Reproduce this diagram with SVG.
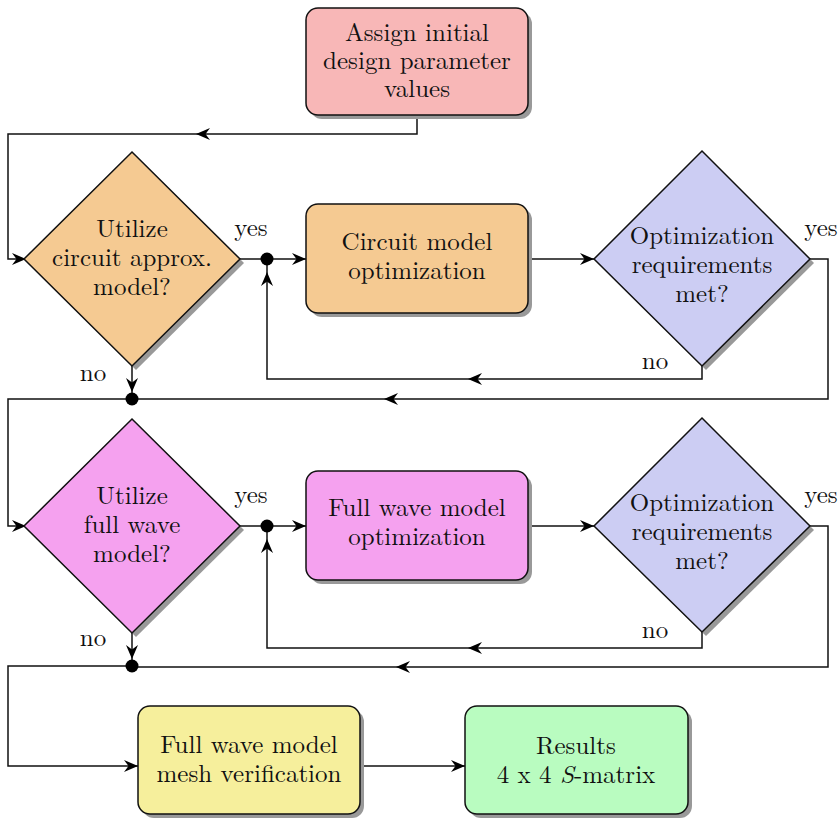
<svg xmlns="http://www.w3.org/2000/svg" width="838" height="820" viewBox="0 0 838 820" font-family="Latin Modern Roman, Liberation Serif, serif">
<style>
.t{font-family:Latin Modern Roman,Liberation Serif,serif;font-size:25px;fill:#111;text-anchor:middle}
.sh{fill:#999;stroke:none}
.nd{stroke:#111;stroke-width:1.5}
.ln{fill:none;stroke:#111;stroke-width:1.5}
.dot{fill:#000}
</style>
<defs>
<path id="ah" d="M0,0 L-14,-6 L-9.5,0 L-14,6 Z" fill="#000"/>
</defs>
<g id="connectors">
<path class="ln" d="M417,115 V134 H8 V259 H26"/>
<path class="ln" d="M240,259 H306"/>
<path class="ln" d="M528,259 H594"/>
<path class="ln" d="M810,259 H828 V399 H132"/>
<path class="ln" d="M702,366 V379 H267 V259"/>
<path class="ln" d="M132,366 V399"/>
<path class="ln" d="M132,399 H8 V526 H26"/>
<path class="ln" d="M240,526 H306"/>
<path class="ln" d="M528,526 H594"/>
<path class="ln" d="M810,526 H828 V667 H132"/>
<path class="ln" d="M702,632 V648 H267 V526"/>
<path class="ln" d="M132,633 V666"/>
<path class="ln" d="M132,666 H8 V766 H138"/>
<path class="ln" d="M360,766 H465"/>
<use href="#ah" transform="translate(196,134) rotate(180)"/>
<use href="#ah" transform="translate(26,259)"/>
<use href="#ah" transform="translate(306,259)"/>
<use href="#ah" transform="translate(594,259)"/>
<use href="#ah" transform="translate(468,379) rotate(180)"/>
<use href="#ah" transform="translate(267,272) rotate(-90)"/>
<use href="#ah" transform="translate(384,399) rotate(180)"/>
<use href="#ah" transform="translate(132,392) rotate(90)"/>
<use href="#ah" transform="translate(26,526)"/>
<use href="#ah" transform="translate(306,526)"/>
<use href="#ah" transform="translate(594,526)"/>
<use href="#ah" transform="translate(468,648) rotate(180)"/>
<use href="#ah" transform="translate(267,539) rotate(-90)"/>
<use href="#ah" transform="translate(396,667) rotate(180)"/>
<use href="#ah" transform="translate(132,659) rotate(90)"/>
<use href="#ah" transform="translate(138,766)"/>
<use href="#ah" transform="translate(465,766)"/>
<circle class="dot" cx="267" cy="259" r="6.5"/>
<circle class="dot" cx="132" cy="399" r="6.5"/>
<circle class="dot" cx="267" cy="526" r="6.5"/>
<circle class="dot" cx="132" cy="666" r="6.5"/>
<text class="t" x="251" y="236">yes</text>
<text class="t" x="821" y="236">yes</text>
<text class="t" x="93" y="381">no</text>
<text class="t" x="655" y="369">no</text>
<text class="t" x="251" y="503">yes</text>
<text class="t" x="821" y="503">yes</text>
<text class="t" x="93" y="646">no</text>
<text class="t" x="655" y="638">no</text>
</g>
<g id="start">
<rect class="sh" x="310" y="12" width="222" height="107" rx="12"/>
<rect class="nd" x="306" y="8" width="222" height="107" rx="12" fill="#f8b7b7"/>
<text class="t" x="417" y="41">Assign initial</text>
<text class="t" x="417" y="69">design parameter</text>
<text class="t" x="417" y="97">values</text>
</g>
<g id="dec1">
<path class="sh" d="M136,156 L244,263 L136,370 L28,263 Z"/>
<path class="nd" d="M132,152 L240,259 L132,366 L24,259 Z" fill="#f5ca92"/>
<text class="t" x="132" y="237">Utilize</text>
<text class="t" x="132" y="266">circuit approx.</text>
<text class="t" x="132" y="295">model?</text>
</g>
<g id="circopt">
<rect class="sh" x="310" y="208" width="222" height="109" rx="12"/>
<rect class="nd" x="306" y="204" width="222" height="109" rx="12" fill="#f5ca92"/>
<text class="t" x="417" y="250">Circuit model</text>
<text class="t" x="417" y="279">optimization</text>
</g>
<g id="req1">
<path class="sh" d="M706,155 L814,263 L706,370 L598,263 Z"/>
<path class="nd" d="M702,151 L810,259 L702,366 L594,259 Z" fill="#cccdf3"/>
<text class="t" x="702" y="244">Optimization</text>
<text class="t" x="702" y="273">requirements</text>
<text class="t" x="702" y="302">met?</text>
</g>
<g id="dec2">
<path class="sh" d="M136,423 L244,530 L136,637 L28,530 Z"/>
<path class="nd" d="M132,419 L240,526 L132,633 L24,526 Z" fill="#f5a1ef"/>
<text class="t" x="132" y="504">Utilize</text>
<text class="t" x="132" y="533">full wave</text>
<text class="t" x="132" y="562">model?</text>
</g>
<g id="fwopt">
<rect class="sh" x="310" y="475" width="222" height="109" rx="12"/>
<rect class="nd" x="306" y="471" width="222" height="109" rx="12" fill="#f5a1ef"/>
<text class="t" x="417" y="516">Full wave model</text>
<text class="t" x="417" y="545">optimization</text>
</g>
<g id="req2">
<path class="sh" d="M706,422 L814,530 L706,636 L598,530 Z"/>
<path class="nd" d="M702,418 L810,526 L702,632 L594,526 Z" fill="#cccdf3"/>
<text class="t" x="702" y="511">Optimization</text>
<text class="t" x="702" y="540">requirements</text>
<text class="t" x="702" y="569">met?</text>
</g>
<g id="mesh">
<rect class="sh" x="142" y="710" width="222" height="108" rx="12"/>
<rect class="nd" x="138" y="706" width="222" height="108" rx="12" fill="#f6ef9c"/>
<text class="t" x="249" y="753">Full wave model</text>
<text class="t" x="249" y="782">mesh verification</text>
</g>
<g id="results">
<rect class="sh" x="469" y="710" width="223" height="108" rx="12"/>
<rect class="nd" x="465" y="706" width="223" height="108" rx="12" fill="#b9fcc0"/>
<text class="t" x="576" y="754">Results</text>
<text class="t" x="576" y="783">4 x 4 <tspan font-style="italic">S</tspan>-matrix</text>
</g>
</svg>
